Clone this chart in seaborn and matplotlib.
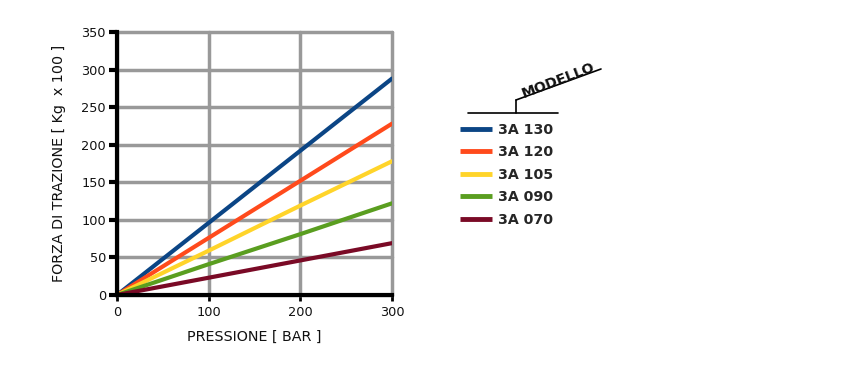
import matplotlib
matplotlib.use("Agg")
import matplotlib.pyplot as plt
import seaborn as sns
import pandas as pd
from matplotlib.lines import Line2D

pressione = [0, 100, 200, 300]
modelli = ["3A 130", "3A 120", "3A 105", "3A 090", "3A 070"]
forza_130 = [0, 96, 192, 288]
forza_120 = [0, 76, 152, 228]
forza_105 = [0, 59, 119, 178]
forza_090 = [0, 41, 81, 122]
forza_070 = [0, 23, 46, 69]
colori = ["#0b4585", "#ff4a1c", "#ffd42a", "#5a9e20", "#7a0a26"]

rows = []
for m, vals in zip(modelli, [forza_130, forza_120, forza_105, forza_090, forza_070]):
    for p, v in zip(pressione, vals):
        rows.append({"Pressione": p, "Forza": v, "Modello": m})
df = pd.DataFrame(rows)

sns.set_theme(style="white")
plt.rcParams['font.family'] = ['DejaVu Sans']

fig = plt.figure(figsize=(8.51, 3.87), dpi=100)
ax = fig.add_axes([117/851, 1-295/387, 275/851, 263/387])

sns.lineplot(data=df, x="Pressione", y="Forza", hue="Modello", hue_order=modelli,
             palette=colori, linewidth=3, ax=ax, legend=False, zorder=3)

ax.set_xlim(0, 300)
ax.set_ylim(0, 350)
ax.set_xticks([0, 100, 200, 300])
ax.set_yticks(range(0, 351, 50))
ax.grid(True, color="#999999", linewidth=2.5, zorder=0)
ax.set_axisbelow(True)
for gl in ax.get_xgridlines() + ax.get_ygridlines():
    gl.set_clip_on(False)
for s in ["top", "right"]:
    ax.spines[s].set_visible(False)
for s in ["left", "bottom"]:
    ax.spines[s].set_color("black")
    ax.spines[s].set_linewidth(3)
    ax.spines[s].set_zorder(4)
ax.tick_params(axis="y", which="both", left=True, length=6, width=3, color="black",
               labelsize=9.3, pad=2, labelcolor="#111111")
ax.tick_params(axis="x", which="both", bottom=True, length=4, width=2, color="black",
               labelsize=9.3, pad=4, labelcolor="#111111")
ax.set_xlabel("PRESSIONE [ BAR ]", fontsize=10.3, labelpad=8, color="#111111")
ax.set_ylabel("FORZA DI TRAZIONE [ Kg  x 100 ]", fontsize=10.3, labelpad=11, color="#111111")

handles = [Line2D([0], [0], color=c, linewidth=3.5, solid_capstyle="butt") for c in colori]
leg = fig.legend(handles, modelli, loc="upper left",
                 bbox_to_anchor=(454/851, 1-117/387), frameon=False,
                 prop={"weight": "bold", "size": 10.2}, handlelength=2.3,
                 handletextpad=0.4, labelspacing=0.6, borderaxespad=0)

# MODELLO header decoration
fig.add_artist(Line2D([468/851, 558/851], [1-113/387, 1-113/387], color="black", linewidth=1.2))
fig.add_artist(Line2D([516/851, 516/851], [1-113/387, 1-100/387], color="black", linewidth=1.2))
fig.add_artist(Line2D([516/851, 601/851], [1-100/387, 1-69/387], color="black", linewidth=1.2))
fig.text(558/851, 1-80/387, "MODELLO", rotation=21, fontsize=10.3, fontweight="bold",
         ha="center", va="center", rotation_mode="anchor", color="#111111")

fig.savefig("out.png", dpi=100, facecolor="white")
